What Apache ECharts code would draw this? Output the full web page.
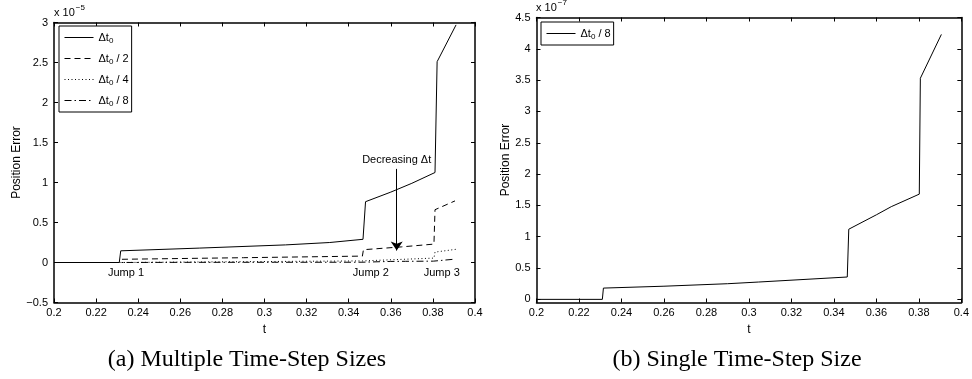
<!DOCTYPE html>
<html>
<head>
<meta charset="utf-8">
<script src="https://cdn.jsdelivr.net/npm/echarts@6/dist/echarts.min.js"></script>
<style>
  html, body { margin: 0; padding: 0; background: #fff; }
  #chart { width: 972px; height: 379px; }
</style>
</head>
<body>
<div id="chart"></div>
<script>
// Tick positions: time axis shared by both panels
const tTicks = [0.2, 0.22, 0.24, 0.26, 0.28, 0.3, 0.32, 0.34, 0.36, 0.38, 0.4];
// Position-error ticks: panel (a) in units of 1e-5, panel (b) in units of 1e-7
const errTicksA = [-0.5, 0, 0.5, 1, 1.5, 2, 2.5, 3];
const errTicksB = [0, 0.5, 1, 1.5, 2, 2.5, 3, 3.5, 4, 4.5];

// Series keys and their legend texts
const seriesKeys = ['dt0', 'dt0_2', 'dt0_4', 'dt0_8'];
const legendText = {
  dt0: '{d|Δt}{s|0}',
  dt0_2: '{d|Δt}{s|0}{d| / 2}',
  dt0_4: '{d|Δt}{s|0}{d| / 4}',
  dt0_8: '{d|Δt}{s|0}{d| / 8}',
  dt0_8b: '{d|Δt}{s|0}{d| / 8}'
};

// Δt0 (x 1e-5)
const tFull = [0.2, 0.231, 0.2317, 0.269, 0.31, 0.331, 0.3468, 0.348, 0.36, 0.37, 0.381, 0.382, 0.391];
const errFull = [0, 0, 0.146, 0.18, 0.22, 0.25, 0.29, 0.76, 0.88, 0.99, 1.125, 2.51, 2.97];

// Δt0 / 2 (x 1e-5)
const tHalf = [0.2, 0.231, 0.2317, 0.29, 0.3465, 0.347, 0.365, 0.3805, 0.381, 0.3905];
const errHalf = [0, 0, 0.04, 0.06, 0.08, 0.16, 0.195, 0.23, 0.66, 0.77];

// Δt0 / 4 (x 1e-5)
const tQuarter = [0.2, 0.231, 0.2317, 0.3465, 0.347, 0.3805, 0.381, 0.391];
const errQuarter = [0, 0, 0.01, 0.02, 0.04, 0.055, 0.13, 0.165];

// Δt0 / 8 (x 1e-7)
const tEighth = [0.2, 0.231, 0.2315, 0.26, 0.29, 0.3046, 0.3463, 0.347, 0.36, 0.367, 0.3802, 0.3807, 0.3906];
const errEighth = [0, 0, 0.18, 0.21, 0.25, 0.277, 0.357, 1.12, 1.35, 1.48, 1.68, 3.53, 4.23];

// Annotations in panel (a)
const jumpLabels = ['Jump 1', 'Jump 2', 'Jump 3'];
const jumpT = [0.2342, 0.3505, 0.3842];
const jumpErr = -0.13;
const arrowT = 0.3628;
const arrowFrom = 1.17;
const arrowTo = 0.15;

const pairs = (t, e) => t.map((x, i) => [x, e[i]]);
const minus = v => (v < 0 ? '\u2212' + Math.abs(v) : String(v));

const sans = 'Liberation Sans, Arial, Helvetica, sans-serif';
const serif = 'Liberation Serif, Times New Roman, serif';
const black = '#000';

const legendRich = {
  d: { fontFamily: sans, fontSize: 11, color: black, lineHeight: 14 },
  s: { fontFamily: sans, fontSize: 8, color: black, lineHeight: 14, padding: [7, 0, 0, 0] }
};

function boxAxes(gridIndex, min, max, ticks, isX, fmt) {
  // one labelled axis plus a mirrored unlabelled axis, both with inward ticks
  const base = {
    type: 'value', gridIndex, min, max,
    splitLine: { show: false },
    axisLine: { show: true, onZero: false, lineStyle: { color: black, width: 1.5 } },
    axisTick: { show: true, inside: true, length: 4, customValues: ticks, lineStyle: { color: black, width: 1 } }
  };
  const main = Object.assign({}, base, {
    position: isX ? 'bottom' : 'left',
    axisLabel: {
      show: true, customValues: ticks, formatter: fmt,
      color: black, fontFamily: sans, fontSize: 11, margin: isX ? 5 : 6
    }
  });
  const mirror = Object.assign({}, base, {
    position: isX ? 'top' : 'right',
    axisLabel: { show: false }
  });
  return [main, mirror];
}

const xAxes = [
  ...boxAxes(0, 0.2, 0.4, tTicks, true, v => String(v)),
  ...boxAxes(1, 0.2, 0.4, tTicks, true, v => String(v))
];
xAxes[0].name = 't';
xAxes[2].name = 't';
[xAxes[0], xAxes[2]].forEach(a => {
  a.nameLocation = 'middle';
  a.nameGap = 17;
  a.nameTextStyle = { color: black, fontFamily: sans, fontSize: 12 };
});

const yAxes = [
  ...boxAxes(0, -0.5, 3, errTicksA, false, minus),
  ...boxAxes(1, -0.05, 4.5, errTicksB, false, minus)
];
yAxes[0].name = 'Position Error';
yAxes[0].nameGap = 31;
yAxes[2].name = 'Position Error';
yAxes[2].nameGap = 23;
[yAxes[0], yAxes[2]].forEach(a => {
  a.nameLocation = 'middle';
  a.nameRotate = 90;
  a.nameTextStyle = { color: black, fontFamily: sans, fontSize: 12 };
});

function lineSeries(name, data, xi, yi, type) {
  return {
    name, type: 'line', data,
    xAxisIndex: xi, yAxisIndex: yi,
    symbol: 'none', silent: true, animation: false,
    lineStyle: { color: black, width: 1, type }
  };
}

const seriesA = [
  lineSeries('dt0', pairs(tFull, errFull), 0, 0, 'solid'),
  lineSeries('dt0_2', pairs(tHalf, errHalf), 0, 0, [6, 4]),
  lineSeries('dt0_4', pairs(tQuarter, errQuarter), 0, 0, [1, 2.5]),
  // Δt0/8 shown in panel (a) units: 1e-7 -> 1e-5
  lineSeries('dt0_8', pairs(tEighth, errEighth.map(v => v / 100)), 0, 0, [7, 3, 1.5, 3])
];

seriesA[0].markPoint = {
  silent: true,
  symbol: 'circle', symbolSize: 0,
  label: {
    show: true, position: 'inside', formatter: '{b}',
    color: black, fontFamily: sans, fontSize: 11
  },
  data: jumpLabels.map((n, i) => ({ name: n, coord: [jumpT[i], jumpErr] }))
};
seriesA[0].markLine = {
  silent: true,
  symbol: ['none', 'arrow'],
  symbolSize: 9,
  lineStyle: { color: black, width: 1, type: 'solid' },
  label: {
    show: true, position: 'start', distance: 3, formatter: 'Decreasing Δt',
    color: black, fontFamily: sans, fontSize: 11
  },
  data: [[{ coord: [arrowT, arrowFrom] }, { coord: [arrowT, arrowTo] }]]
};

const seriesB = [
  lineSeries('dt0_8b', pairs(tEighth, errEighth), 2, 2, 'solid')
];

function legendBox(keys, left, top, padding) {
  return {
    data: keys, orient: 'vertical', left, top, padding,
    itemWidth: 29, itemHeight: 14, itemGap: 6,
    borderColor: black, borderWidth: 1, backgroundColor: '#fff',
    selectedMode: false,
    lineStyle: { width: 1 },
    itemStyle: { color: 'rgba(0,0,0,0)', borderWidth: 0 },
    formatter: n => legendText[n],
    textStyle: { rich: legendRich }
  };
}

const expLabel = (x, y, exp) => ({
  type: 'text', left: x, top: y, silent: true,
  style: {
    text: '{b|x 10}{e|' + exp + '}',
    rich: {
      b: { fontFamily: sans, fontSize: 11, fill: black, lineHeight: 14, padding: [4, 0, 0, 0] },
      e: { fontFamily: sans, fontSize: 8, fill: black, lineHeight: 14, padding: [0, 0, 5, 1] }
    }
  }
});

const chart = echarts.init(document.getElementById('chart'), null, { renderer: 'canvas' });
chart.setOption({
  backgroundColor: '#fff',
  animation: false,
  grid: [
    { left: 54, top: 22.5, width: 421, height: 280, containLabel: false },
    { left: 536.5, top: 17.5, width: 427.5, height: 285, containLabel: false }
  ],
  xAxis: xAxes,
  yAxis: yAxes,
  legend: [
    legendBox(seriesKeys, 59, 26, [4, 3, 4, 5]),
    legendBox(['dt0_8b'], 541, 22, [4, 3, 4, 5])
  ],
  title: [
    { text: '(a) Multiple Time-Step Sizes', left: 247, top: 348, textAlign: 'center', padding: 0,
      textStyle: { fontFamily: serif, fontSize: 24, fontWeight: 'normal', color: black } },
    { text: '(b) Single Time-Step Size', left: 737, top: 348, textAlign: 'center', padding: 0,
      textStyle: { fontFamily: serif, fontSize: 24, fontWeight: 'normal', color: black } }
  ],
  graphic: [
    expLabel(54, 3, '\u22125'),
    expLabel(536, -2, '\u22127')
  ],
  series: [...seriesA, ...seriesB]
});
</script>
</body>
</html>
